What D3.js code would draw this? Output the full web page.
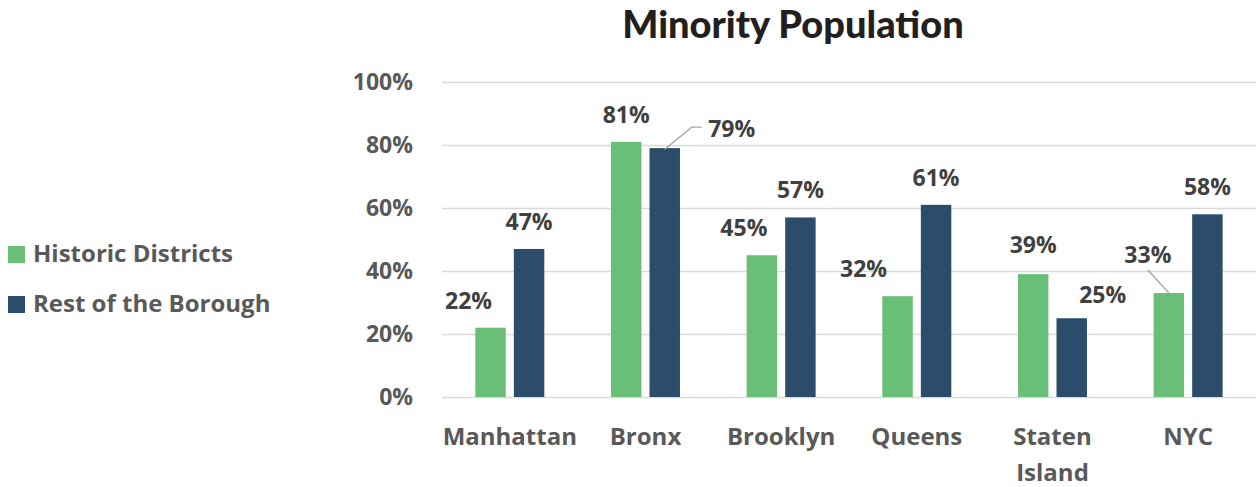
<!DOCTYPE html>
<html>
<head>
<meta charset="utf-8">
<script src="https://cdn.jsdelivr.net/npm/d3@7"></script>
<style>
  body { margin: 0; background: #fff; }
  text { font-family: "Open Sans", "Noto Sans", sans-serif; }
</style>
</head>
<body>
<script>
// chart data
var categories = ["Manhattan", "Bronx", "Brooklyn", "Queens", "Staten Island", "NYC"];
var seriesNames = ["Historic Districts", "Rest of the Borough"];
var historic = [0.22, 0.81, 0.45, 0.32, 0.39, 0.33];
var restOfBorough = [0.47, 0.79, 0.57, 0.61, 0.25, 0.58];
var yTicks = [0, 0.2, 0.4, 0.6, 0.8, 1.0];

// label nudges (like the hand-moved labels in the original)
var labelNudge = {
    "Historic Districts": [[-22, 0], [0, 0], [-18, 0], [-34, 0], [0, -2], [-21, -11]],
    "Rest of the Borough": [[0, 0], [67, 8], [0, 0], [0, 0], [31, 4], [0, 0]]
};
var colors = { "Historic Districts": "#69bf76", "Rest of the Borough": "#2b4d6b" };

var w = 1257, h = 487;
var plot = { left: 442, right: 1256, top: 82, bottom: 397 };

var svg = d3.select("body").append("svg")
    .attr("width", w)
    .attr("height", h);

var x0 = d3.scaleBand()
    .domain(categories)
    .range([plot.left, plot.right]);

var x1 = d3.scaleBand()
    .domain(seriesNames)
    .range([33.3, 102.3])
    .paddingInner(0.21);

var y = d3.scaleLinear()
    .domain([0, 1])
    .range([plot.bottom, plot.top]);

// gridlines + y labels
var yAxis = d3.axisLeft(y)
    .tickValues(yTicks)
    .tickFormat(d3.format(".0%"))
    .tickSize(-(plot.right - plot.left))
    .tickPadding(29);

var gy = svg.append("g")
    .attr("transform", "translate(" + plot.left + ",0)")
    .call(yAxis);
gy.select(".domain").remove();
gy.selectAll("line").attr("stroke", "#d9d9d9").attr("stroke-width", 1.6);
gy.selectAll("text")
    .attr("fill", "#595959")
    .style("font-size", "23px")
    .style("font-weight", 700);

// bars
var rows = categories.map(function(c, i) {
    return { cat: c, i: i, values: [
        { s: seriesNames[0], v: historic[i] },
        { s: seriesNames[1], v: restOfBorough[i] }
    ] };
});

var groups = svg.selectAll(".grp")
    .data(rows)
    .enter().append("g")
    .attr("class", "grp")
    .attr("transform", function(d) { return "translate(" + x0(d.cat) + ",0)"; });

groups.selectAll("rect")
    .data(function(d) { return d.values; })
    .enter().append("rect")
    .attr("x", function(d) { return x1(d.s); })
    .attr("width", x1.bandwidth())
    .attr("y", function(d) { return y(d.v); })
    .attr("height", function(d) { return y(0) - y(d.v); })
    .attr("fill", function(d) { return colors[d.s]; });

// data labels
groups.each(function(row) {
    var g = d3.select(this);
    row.values.forEach(function(d) {
        var nd = labelNudge[d.s][row.i];
        var cx = x1(d.s) + x1.bandwidth() / 2;
        var lx = cx + nd[0];
        var ly = y(d.v) - 19 + nd[1];
        g.append("text")
            .attr("x", lx)
            .attr("y", ly)
            .attr("text-anchor", "middle")
            .attr("fill", "#404040")
            .style("font-size", "23px")
            .style("font-weight", 700)
            .text(d3.format(".0%")(d.v));
        // leader line for labels moved far from their bar
        if (Math.abs(nd[0]) > 40) {
            g.append("polyline")
                .attr("points", [[cx, y(d.v) + 1], [lx - 40, ly - 10], [lx - 30, ly - 10]].join(" "))
                .attr("fill", "none")
                .attr("stroke", "#a6a6a6")
                .attr("stroke-width", 1.3);
        } else if (nd[1] < -5) {
            g.append("line")
                .attr("x1", cx).attr("y1", y(d.v))
                .attr("x2", lx).attr("y2", ly + 7)
                .attr("stroke", "#a6a6a6")
                .attr("stroke-width", 1.3);
        }
    });
});

// category labels (wrap two-word Staten Island)
groups.append("text")
    .attr("x", x0.bandwidth() / 2)
    .attr("y", 445)
    .attr("text-anchor", "middle")
    .attr("fill", "#595959")
    .style("font-size", "24px")
    .style("font-weight", 700)
    .each(function(d) {
        var words = d.cat === "Staten Island" ? d.cat.split(" ") : [d.cat];
        var t = d3.select(this);
        words.forEach(function(wd, k) {
            t.append("tspan")
                .attr("x", x0.bandwidth() / 2)
                .attr("dy", k === 0 ? 0 : 36)
                .text(wd);
        });
    });

// title
svg.append("text")
    .attr("x", 793)
    .attr("y", 38)
    .attr("text-anchor", "middle")
    .attr("fill", "#231f20")
    .style("font-family", "Lato, sans-serif")
    .style("font-size", "38px")
    .style("font-weight", 900)
    .text("Minority Population");

// legend
var legend = svg.selectAll(".leg")
    .data(seriesNames)
    .enter().append("g")
    .attr("class", "leg")
    .attr("transform", function(d, i) { return "translate(8," + (246 + i * 50) + ")"; });

legend.append("rect")
    .attr("width", 17)
    .attr("height", 17)
    .attr("fill", function(d) { return colors[d]; });

legend.append("text")
    .attr("x", 25)
    .attr("y", 16)
    .attr("fill", "#595959")
    .style("font-size", "24px")
    .style("font-weight", 700)
    .text(function(d) { return d; });
</script>
</body>
</html>
